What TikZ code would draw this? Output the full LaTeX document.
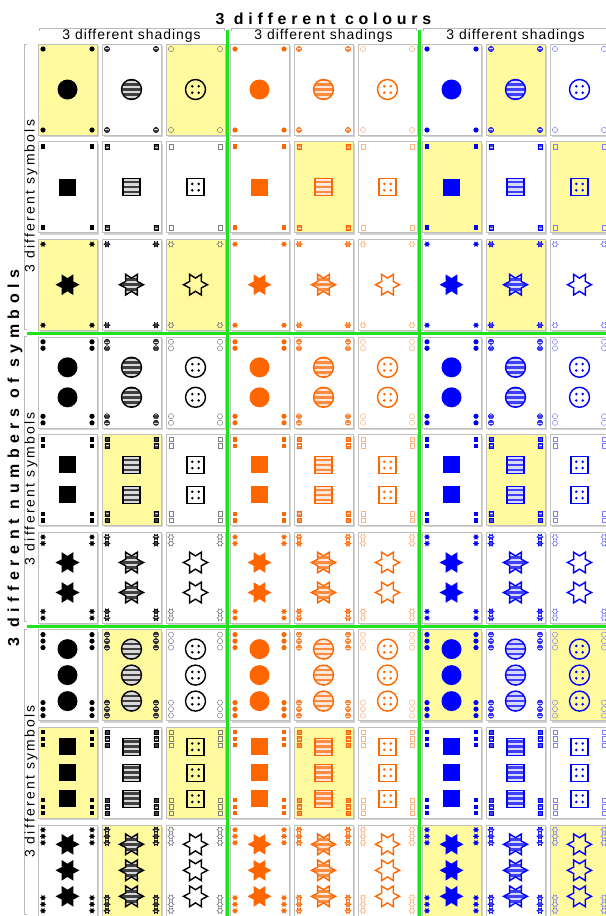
\documentclass[tikz,border=0pt]{standalone}
\usepackage{fontspec}
\setmainfont{Liberation Sans}
\newfontfamily\headfont[LetterSpace=30]{Liberation Sans}
\newfontfamily\rowfont[LetterSpace=35]{Liberation Sans}
\newfontfamily\shadefont[LetterSpace=7]{Liberation Sans}
\newfontfamily\sidefont[LetterSpace=16]{Liberation Sans}
\usepackage{tikz}
\usetikzlibrary{shadows}

\definecolor{setblack}{RGB}{0,0,0}
\definecolor{setorange}{RGB}{255,102,0}
\definecolor{setblue}{RGB}{0,0,255}
\definecolor{cardyellow}{RGB}{255,250,158}
\definecolor{divgreen}{RGB}{30,228,30}

% shape path: 0 circle, 1 square, 2 star
\newcommand{\symshape}[1]{%
  \ifcase#1 \def\sympath{(0,0) circle[radius=10]}%
  \or \def\sympath{(-8.5,-8.5) rectangle (8.5,8.5)}%
  \or \def\sympath{(0:12) \foreach \a in {30,90,...,330} {-- (\a:6.6) -- (\a+30:12)} -- cycle}%
  \fi}
% shape, shading, colour, scale, x, y, line width, dots
\newcommand{\setsym}[8]{%
  \begin{scope}[shift={(#5,#6)},scale=#4]
  \symshape{#1}%
  \ifcase#2
    \fill[#3] \sympath;
  \or
    \begin{scope}
    \clip \sympath;
    \fill[#3!15!white] (-13,-13) rectangle (13,13);
    \foreach \k in {-10,-5,...,10} \fill[#3!75!white] (-13,\k-1.25) rectangle (13,\k+1.25);
    \end{scope}
    \draw[#3,line width=#7] \sympath;
  \or
    \draw[#3,line width=#7] \sympath;
    \ifnum#8=1 \ifnum#1<2
      \foreach \dx/\dy in {-3.2/-3.2,3.2/-3.2,-3.2/3.2,3.2/3.2} \fill[#3] (\dx,\dy) circle[radius=1.4];
    \fi\fi
  \fi
  \end{scope}}

\begin{document}
\begin{tikzpicture}[x=1bp,y=-1bp,
  card/.style={draw=gray!50,line width=0.6bp,minimum width=59bp,minimum height=91bp,inner sep=0pt,
    drop shadow={shadow xshift=2bp,shadow yshift=-2bp,fill=gray!70,opacity=0.5}},
  bracket/.style={draw=gray!55,line width=0.8bp},
  divider/.style={draw=divgreen,line width=3bp},
  shadelabel/.style={font={\shadefont\fontsize{14}{16}\selectfont},inner sep=0pt},
  sidelabel/.style={font={\sidefont\fontsize{14}{16}\selectfont},inner sep=0pt,rotate=90}]
\useasboundingbox (0,0) rectangle (606,916);

\foreach \gc in {0,1,2}{
  \foreach \sd in {0,1,2}{
    \foreach \gr in {0,1,2}{
      \foreach \sh in {0,1,2}{
        \pgfmathtruncatemacro\c{3*\gc+\sd}
        \pgfmathtruncatemacro\r{3*\gr+\sh}
        \pgfmathtruncatemacro\cnt{\gr+1}
        \pgfmathsetmacro\cx{67.5+64*\c}
        \pgfmathsetmacro\cy{89.5+97.6*\r}
        \pgfmathsetmacro\gap{{0,30,26}[\gr]}
        \pgfmathtruncatemacro\mask{{133,336,133,0,130,0,322,21,322}[\r]}
        \pgfmathtruncatemacro\hl{mod(floor(\mask/pow(2,\c)+0.001),2)}
        \ifnum\hl=1 \def\cardfill{cardyellow}\else\def\cardfill{white}\fi
        \ifcase\gc \def\cname{setblack}\or\def\cname{setorange}\or\def\cname{setblue}\fi
        \ifnum\sd=2 \edef\smallcol{\cname!50!white}\else\edef\smallcol{\cname}\fi
        \node[card,fill=\cardfill] (card-\r-\c) at (\cx,\cy) {};
        \foreach \i in {1,...,\cnt}{
          \pgfmathsetmacro\sy{\cy+(\i-(\cnt+1)/2)*\gap}
          \setsym{\sh}{\sd}{\cname}{1}{\cx}{\sy}{1.4bp}{1}
          \pgfmathsetmacro\ty{\cy-40.5+6.5*(\i-1)}
          \pgfmathsetmacro\by{\cy+40.5-6.5*(\i-1)}
          \setsym{\sh}{\sd}{\smallcol}{0.26}{\cx-24.5}{\ty}{0.5bp}{0}
          \setsym{\sh}{\sd}{\smallcol}{0.26}{\cx+24.5}{\ty}{0.5bp}{0}
          \setsym{\sh}{\sd}{\smallcol}{0.26}{\cx-24.5}{\by}{0.5bp}{0}
          \setsym{\sh}{\sd}{\smallcol}{0.26}{\cx+24.5}{\by}{0.5bp}{0}
        }
      }
    }
  }
}

\draw[divider] (227.5,30) -- (227.5,916);
\draw[divider] (419.5,30) -- (419.5,916);
\draw[divider] (27,333) -- (606,333);
\draw[divider] (27,626) -- (606,626);

\foreach \g in {0,1,2}{
  \draw[bracket] ({39+192*\g},31) -- ({39+192*\g},28) -- ({224+192*\g},28) -- ({224+192*\g},31);
  \node[shadelabel] (shadings-\g) at ({131.5+192*\g},36) {3 different shadings};
  \draw[bracket] (27,{44+292.8*\g}) -- (24,{44+292.8*\g}) -- (24,{329+292.8*\g}) -- (27,{329+292.8*\g});
  \node[sidelabel] (symbols-\g) at (31,{196+292.8*\g}) {3 different symbols};
}

\node[font={\headfont\bfseries\fontsize{16}{18}\selectfont},inner sep=0pt] (colours) at (323.5,19) {3 different colours};
\node[font={\rowfont\bfseries\fontsize{16}{18}\selectfont},inner sep=0pt,rotate=90] (numbers) at (15,458) {3 different numbers of symbols};
\end{tikzpicture}
\end{document}
